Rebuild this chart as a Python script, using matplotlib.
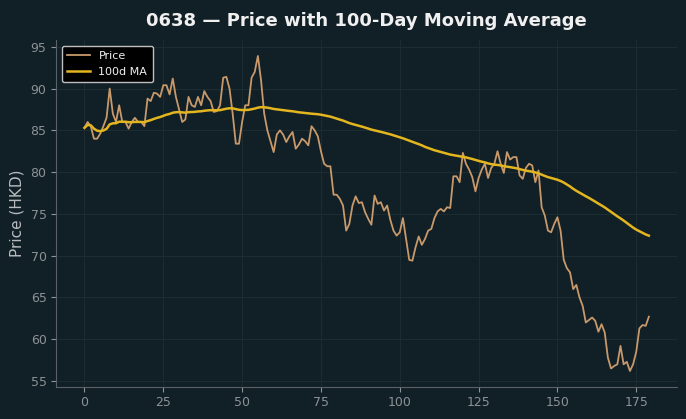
import matplotlib
matplotlib.use("Agg")
import matplotlib.pyplot as plt
import numpy as np
import pandas as pd

# daily close prices for 0638
price = [85.3, 86.0, 85.5, 84.0, 84.0, 84.6, 85.5, 86.5, 90.0, 87.0,
         86.0, 88.0, 86.0, 86.0, 85.2, 86.0, 86.5, 86.0, 86.0, 85.5,
         88.8, 88.5, 89.5, 89.4, 89.0, 90.4, 90.4, 89.3, 91.2, 89.0,
         87.5, 86.0, 86.3, 89.0, 88.0, 87.8, 89.0, 88.0, 89.7, 89.0,
         88.5, 87.2, 87.3, 88.0, 91.3, 91.4, 90.0, 87.0, 83.4, 83.4,
         86.0, 88.0, 88.0, 91.3, 92.0, 93.9, 91.0, 87.0, 85.0, 83.7,
         82.4, 84.5, 85.0, 84.5, 83.6, 84.3, 84.8, 82.8, 83.3, 84.0,
         83.7, 83.2, 85.5, 85.0, 84.3, 82.5, 81.0, 80.7, 80.7, 77.3,
         77.3, 76.8, 76.0, 73.0, 73.8, 76.0, 77.1, 76.3, 76.4, 75.2,
         74.4, 73.7, 77.2, 76.2, 76.4, 75.4, 76.0, 74.3, 73.0, 72.4,
         72.8, 74.5, 72.0, 69.5, 69.4, 71.0, 72.3, 71.3, 72.0, 73.0,
         73.2, 74.5, 75.3, 75.6, 75.3, 75.8, 75.7, 79.5, 79.5, 78.8,
         82.3, 81.0, 80.3, 79.4, 77.7, 79.3, 80.3, 81.0, 79.3, 80.5,
         81.0, 82.5, 81.0, 79.9, 82.4, 81.5, 81.8, 81.8, 79.6, 79.2,
         80.5, 81.0, 80.8, 78.8, 80.2, 75.8, 74.8, 73.0, 72.8, 73.8,
         74.6, 73.0, 69.5, 68.5, 68.0, 66.0, 66.5, 65.0, 64.0, 62.0,
         62.3, 62.6, 62.2, 60.9, 61.8, 60.8, 57.8, 56.5, 56.8, 57.0,
         59.2, 57.0, 57.3, 56.2, 57.0, 58.5, 61.3, 61.7, 61.6, 62.7]

window = 100

bg = "#111f26"
s = pd.Series(price)
ma = s.rolling(window, min_periods=1).mean()

fig, ax = plt.subplots(figsize=(6.86, 4.19), dpi=100)
fig.patch.set_facecolor(bg)
ax.set_facecolor(bg)
fig.subplots_adjust(left=0.082, right=0.987, bottom=0.077, top=0.904)

ax.plot(s.index, s.values, color="#c8996a", lw=1.3, label="Price")
ax.plot(ma.index, ma.values, color="#e3b61f", lw=1.8, label="100d MA")

ax.set_title("0638 \u2014 Price with 100-Day Moving Average", color="#f0f0f0",
             fontsize=13, fontweight="bold", pad=10)
ax.set_ylabel("Price (HKD)", color="#b8bcc0", fontsize=11)
ax.tick_params(colors="#8c9296", labelsize=9)
ax.grid(True, color="#1c2c33", lw=0.8)
for side in ["top", "right"]:
    ax.spines[side].set_visible(False)
for side in ["left", "bottom"]:
    ax.spines[side].set_color("#5a6268")

leg = ax.legend(loc="upper left", fontsize=8, facecolor="black",
                edgecolor="#c0c0c0", labelcolor="#f0f0f0", framealpha=1,
                borderpad=0.5)

plt.savefig("out.png", facecolor=bg)
